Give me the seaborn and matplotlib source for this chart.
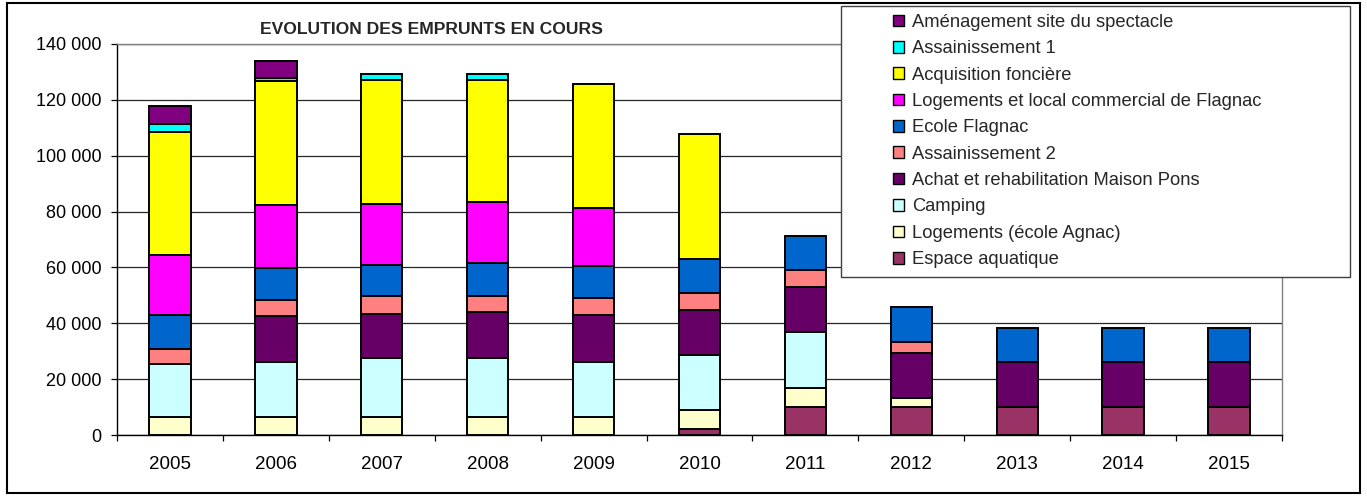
import matplotlib
matplotlib.use("Agg")
import matplotlib.pyplot as plt
from matplotlib.patches import Patch, Rectangle
from matplotlib.ticker import FuncFormatter, FixedLocator
import seaborn as sns
import numpy as np

# years on the x axis
years = ["2005", "2006", "2007", "2008", "2009", "2010",
         "2011", "2012", "2013", "2014", "2015"]

# stacked series, bottom to top (in euros)
espace_aquatique = [0, 0, 0, 0, 0, 2200, 10000, 10000, 10000, 10000, 10000]
logements_agnac = [6600, 6600, 6600, 6500, 6500, 6800, 6700, 3300, 0, 0, 0]
camping = [18900, 19600, 20900, 20900, 19500, 19600, 20300, 0, 0, 0, 0]
maison_pons = [0, 16300, 16000, 16700, 17000, 16200, 16000, 16200, 16200, 16200, 16200]
assainissement_2 = [5200, 5900, 6100, 5500, 5900, 6200, 6200, 3900, 0, 0, 0]
ecole_flagnac = [12300, 11400, 11400, 12100, 11500, 12100, 12200, 12300, 12100, 12100, 12100]
logements_flagnac = [21400, 22400, 21800, 21600, 21000, 0, 0, 0, 0, 0, 0]
acquisition_fonciere = [44200, 44400, 44200, 43700, 44400, 44800, 0, 0, 0, 0, 0]
assainissement_1 = [2800, 1200, 2300, 2200, 0, 0, 0, 0, 0, 0, 0]
amenagement_spectacle = [6300, 6200, 0, 0, 0, 0, 0, 0, 0, 0, 0]

labels = ["Espace aquatique", "Logements (école Agnac)", "Camping",
          "Achat et rehabilitation Maison Pons", "Assainissement 2",
          "Ecole Flagnac", "Logements et local commercial de Flagnac",
          "Acquisition foncière", "Assainissement 1",
          "Aménagement site du spectacle"]
series = [espace_aquatique, logements_agnac, camping, maison_pons,
          assainissement_2, ecole_flagnac, logements_flagnac,
          acquisition_fonciere, assainissement_1, amenagement_spectacle]
colors = ["#993366", "#FFFFCC", "#CCFFFF", "#660066", "#FF8080",
          "#0066CC", "#FF00FF", "#FFFF00", "#00FFFF", "#800080"]

sns.set_theme(style="white")
plt.rcParams["font.family"] = ["Liberation Sans", "DejaVu Sans"]

fig = plt.figure(figsize=(13.67, 4.96), dpi=100)
ax = fig.add_axes([117 / 1367, 61 / 496, 1165 / 1367, 391 / 496])

bottom = np.zeros(len(years))
for name, vals, col in zip(labels, series, colors):
    n_before = len(ax.patches)
    sns.barplot(x=years, y=vals, bottom=bottom.copy(), color=col,
                saturation=1, width=0.39, edgecolor="black",
                linewidth=1.4, errorbar=None, ax=ax)
    # hide empty segments
    for p in ax.patches[n_before:]:
        if p.get_height() == 0:
            p.set_visible(False)
    bottom += np.array(vals)

ax.set_ylim(0, 140000)
ax.set_xlim(-0.5, len(years) - 0.5)
ax.set_yticks(np.arange(0, 140001, 20000))
ax.yaxis.set_major_formatter(FuncFormatter(lambda v, p: f"{v:,.0f}".replace(",", " ")))
ax.set_xlabel("")
ax.set_ylabel("")

ax.set_axisbelow(True)
ax.yaxis.grid(True, color="#262626", linewidth=0.9)
ax.xaxis.grid(False)

for side in ["left", "bottom"]:
    ax.spines[side].set_color("black")
    ax.spines[side].set_linewidth(1.0)
for side in ["top", "right"]:
    ax.spines[side].set_color("#808080")
    ax.spines[side].set_linewidth(1.0)

ax.tick_params(axis="y", left=True, length=4, width=0.9, color="black",
               direction="out", pad=7, labelsize=13, labelcolor="black")
ax.tick_params(axis="x", which="major", length=0, pad=15, labelsize=13.5,
               labelcolor="black")
ax.xaxis.set_minor_locator(FixedLocator(np.arange(-0.5, len(years), 1.0)))
ax.tick_params(axis="x", which="minor", bottom=True, length=4, width=0.9,
               color="black", direction="out")

# title
fig.text(432 / 1367, 1 - 30 / 496, "EVOLUTION DES EMPRUNTS EN COURS",
         ha="center", va="center", fontsize=12.6, fontweight="bold")

# legend box (drawn over the plot area) and entries
fig.patches.append(Rectangle((841 / 1367, 1 - 277 / 496), 509 / 1367, 271 / 496,
                             transform=fig.transFigure, facecolor="white",
                             edgecolor="#404040", linewidth=1.0, zorder=3))
handles = [Patch(facecolor=c, edgecolor="black", linewidth=1.0, label=l)
           for l, c in zip(labels, colors)][::-1]
fig.legend(handles=handles, loc="upper left",
           bbox_to_anchor=(893 / 1367, 1 - 14 / 496), frameon=False,
           fontsize=13.2, handlelength=0.6, handleheight=0.6,
           handletextpad=0.45, labelspacing=0.51, borderpad=0,
           borderaxespad=0)

# outer chart frame
fig.patches.append(Rectangle((7 / 1367, 3 / 496), 1353 / 1367, 490 / 496,
                             transform=fig.transFigure, fill=False,
                             edgecolor="black", linewidth=1.5, zorder=4))

fig.savefig("out.png", dpi=100)
plt.close(fig)
